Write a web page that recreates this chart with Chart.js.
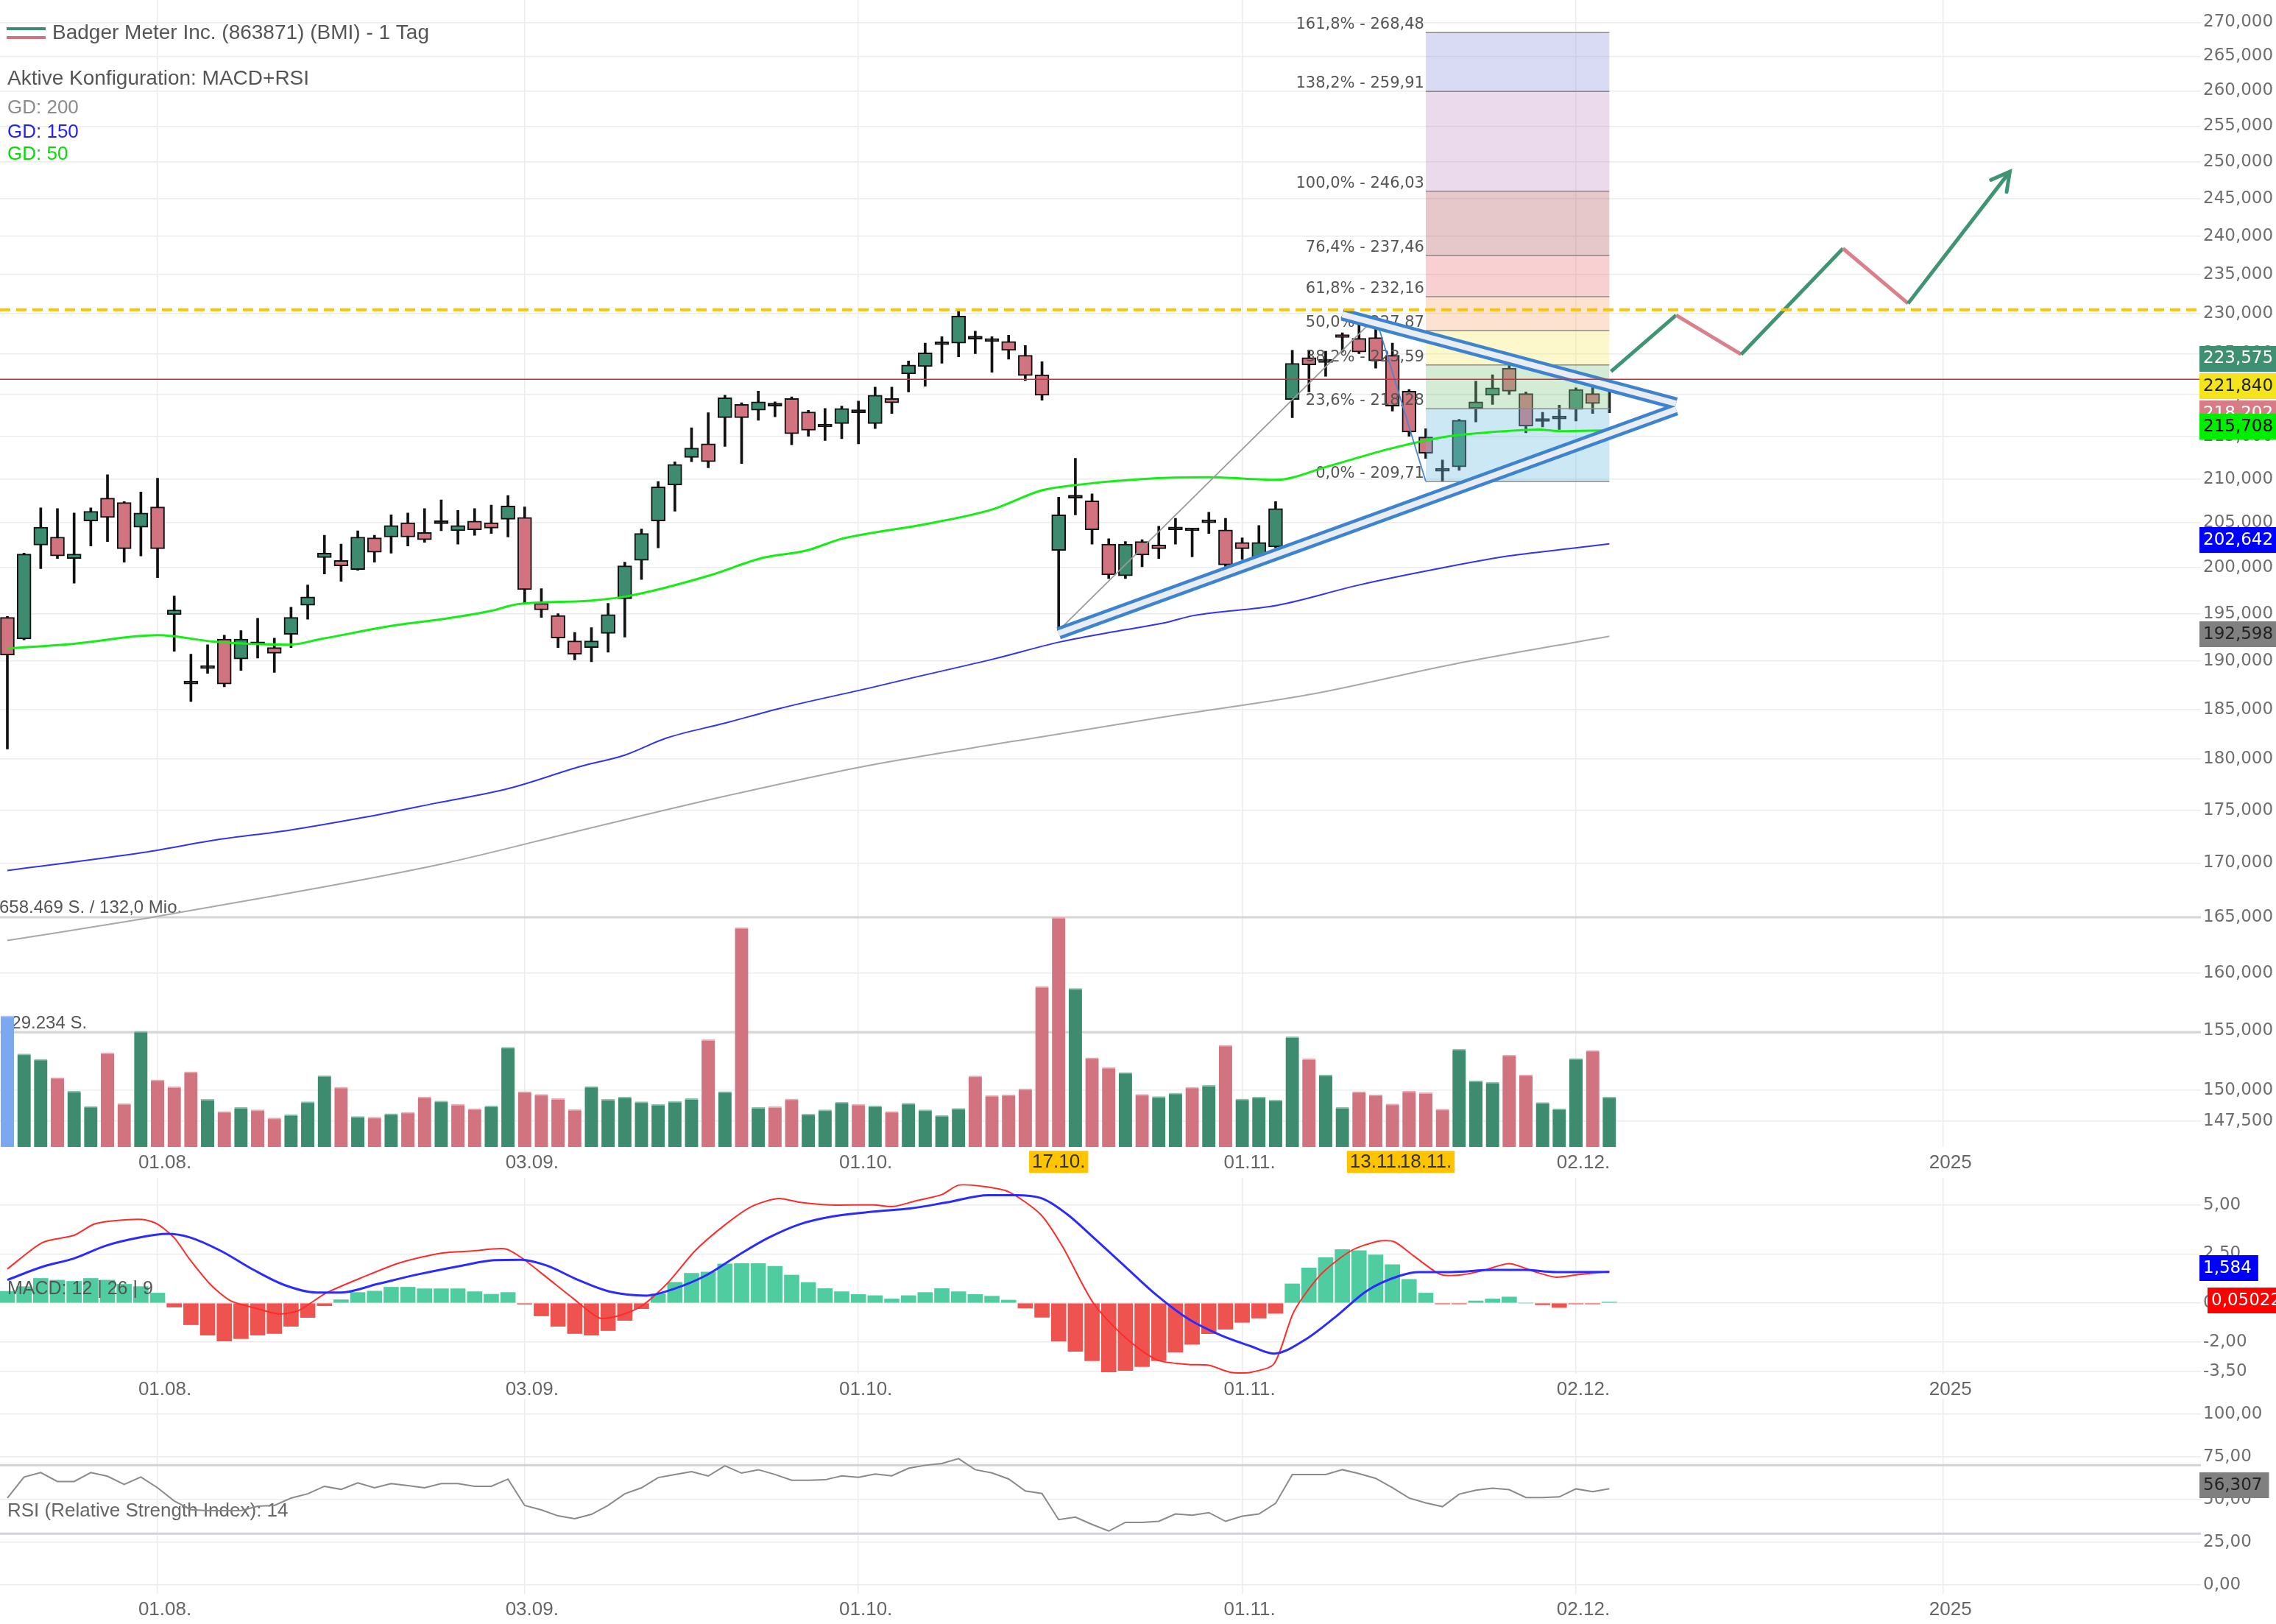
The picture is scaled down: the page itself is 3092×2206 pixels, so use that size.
<!DOCTYPE html>
<html lang="de">
<head>
<meta charset="utf-8">
<title>Badger Meter Inc. (BMI) - 1 Tag</title>
<script src="https://cdn.jsdelivr.net/npm/chart.js"></script>
<style>
  html, body { margin: 0; padding: 0; background: #fff; overflow: hidden; }
  #wrap { position: relative; width: 3092px; height: 2206px; }
  #wrap canvas { position: absolute; left: 0; }
</style>
</head>
<body>
<div id="wrap">
  <canvas id="priceChart" width="3092" height="1600" style="top:0;width:3092px;height:1600px"></canvas>
  <canvas id="macdChart" width="3092" height="300" style="top:1600px;width:3092px;height:300px"></canvas>
  <canvas id="rsiChart" width="3092" height="306" style="top:1900px;width:3092px;height:306px"></canvas>
</div>
<script>
const FONT = "'Liberation Sans', Arial, sans-serif";
const NUM_FONT = "'DejaVu Sans', Verdana, sans-serif";

// x = trading day index, 0 = 19.07.2024
const xTickIdx = [9, 31, 51, 74, 94, 116];
const xTickText = ["01.08.", "03.09.", "01.10.", "01.11.", "02.12.", "2025"];
const markIdx = [63, 82, 85];
const markText = ["17.10.", "13.11.", "18.11."];

const open = [194.6,192.3,202.5,203.4,201.0,205.2,207.8,207.3,204.5,206.8,
  194.9,187.7,189.3,192.3,190.2,191.8,191.4,192.8,195.9,201.1,
  200.8,199.8,203.3,203.4,205.0,203.9,204.9,204.1,205.2,205.0,
  205.4,205.6,196.1,194.8,192.1,191.4,192.9,196.6,200.8,205.2,
  209.3,212.5,214.1,217.2,218.8,218.1,218.7,219.5,217.9,216.2,
  216.5,217.8,216.5,219.5,222.5,223.4,226.1,226.3,226.9,226.6,
  226.5,224.8,222.4,201.9,207.9,207.5,202.6,199.1,202.9,202.5,
  204.2,204.1,205.0,204.2,202.8,200.6,202.3,219.4,224.5,223.9,
  227.3,226.9,227.0,224.8,220.4,214.9,211.0,211.4,218.3,219.9,
  223.2,220.1,216.75,217.05,218.2,220.1,220.65];
const high = [194.7,201.6,206.7,206.6,206.1,206.7,210.5,207.4,208.5,210.1,
  196.9,190.7,191.7,192.7,193.2,194.5,192.4,195.7,198.1,203.6,
  202.6,204.1,203.6,205.9,206.1,206.6,207.6,206.4,206.6,207.0,
  208.1,206.8,197.7,195.0,193.0,193.5,196.1,200.6,204.3,209.7,
  212.0,216.0,217.8,219.9,219.0,220.4,219.1,219.7,218.1,218.3,
  218.6,219.2,220.9,220.9,224.1,226.3,227.1,230.4,227.8,227.1,
  227.3,226.0,224.0,207.9,212.4,208.3,203.2,202.9,203.1,204.6,
  205.5,204.4,206.2,205.5,203.3,204.7,207.4,225.4,225.4,225.3,
  227.6,228.7,228.2,226.3,220.6,215.9,212.2,217.0,221.6,222.4,
  224.5,220.3,217.85,218.7,220.8,221.7,220.8];
const low = [181.0,192.2,199.9,201.0,198.3,202.4,202.9,200.6,201.3,198.9,
  191.0,185.8,188.7,187.3,189.0,190.3,188.8,191.4,194.4,199.3,
  198.5,199.7,200.6,201.6,202.4,202.8,204.1,202.6,203.6,203.8,
  203.4,196.1,194.6,191.4,190.1,189.9,190.9,192.5,198.7,202.2,
  206.3,212.0,211.3,213.8,211.8,216.9,217.3,214.0,215.0,214.5,
  214.7,214.1,215.9,217.7,220.3,221.0,223.8,224.6,225.0,222.7,
  224.3,221.7,219.3,193.2,205.9,202.6,198.8,198.8,200.1,201.0,
  202.6,201.2,203.8,199.7,200.9,200.4,202.2,217.2,220.3,222.2,
  225.2,225.0,223.2,218.0,215.0,212.4,209.7,211.0,216.7,218.8,
  220.0,215.4,216.1,215.8,216.8,217.7,217.8];
const close = [190.6,201.5,204.5,201.3,201.5,206.3,205.6,202.1,206.1,202.1,
  195.4,187.6,189.2,187.6,192.3,191.7,190.8,194.6,196.8,201.6,
  200.2,203.4,201.7,204.7,203.4,203.1,204.9,204.7,204.2,204.4,
  206.9,197.6,195.4,192.4,190.7,192.1,194.9,200.2,203.8,209.1,
  211.7,213.6,212.0,219.6,217.2,219.1,218.6,215.3,215.7,216.1,
  218.3,217.9,219.9,219.0,223.6,225.1,226.2,229.7,226.8,226.5,
  225.4,222.3,219.9,205.9,207.8,204.2,199.2,202.6,201.4,202.1,
  204.3,204.1,205.1,200.3,202.1,202.8,206.6,223.8,223.6,224.0,
  227.0,225.2,224.1,218.6,215.5,213.0,210.9,216.9,219.1,220.8,
  220.4,216.2,216.85,217.15,220.6,218.9,220.75];
const volume = [376000,267000,252000,199000,160000,117000,270000,125000,332000,193000,
  173000,216000,137000,102000,114000,107000,84000,93000,130000,205000,
  172000,88000,86000,96000,100000,144000,132000,123000,110000,118000,
  286000,159000,151000,139000,108000,174000,137000,144000,130000,123000,
  131000,139000,308000,159000,629000,114000,116000,138000,95000,107000,
  129000,123000,118000,102000,126000,107000,91000,111000,204000,148000,
  150000,167000,460000,658469,455000,256000,228000,214000,151000,145000,
  155000,172000,177000,292000,138000,144000,135000,316000,253000,207000,
  114000,159000,150000,124000,160000,156000,109000,281000,190000,186000,
  264000,207000,128000,110000,254000,277000,144000];
const volLines = [658469, 329234];
const volTurnover = "132,0 Mio.";

// moving averages, read at these candle positions
const gd50X = [0,4,9,12.5,16.9,18.8,23.4,26,29,30.5,34.9,37.2,42,45.3,47.9,50,54.9,59,62,64,68,72,76,79.2,82.8,86.4,89,91.8,93,96];
const gd50Y = [191.3,191.8,192.7,192.0,191.7,192.3,193.8,194.4,195.3,196.0,196.4,196.9,199.1,201.1,201.9,203.2,204.8,206.5,208.7,209.3,210.0,210.2,209.9,211.5,213.5,215.0,215.5,215.8,215.6,215.7];
const gd150X = [0,8.2,12.6,16.9,21.3,25.7,30,34.4,37,39.5,43,46.3,51.7,54.4,59.1,63.1,66.7,69.3,71.1,76.1,81,85.5,90,93.6,96];
const gd150Y = [169.3,171.0,172.2,173.1,174.3,175.7,177.1,179.3,180.4,182.1,183.6,185.1,187.2,188.3,190.2,192.0,193.2,194.0,194.8,195.9,198.1,199.8,201.3,202.1,202.64];
const gd200X = [0,8.3,16.9,26,34.4,43.1,51.7,60.4,69.2,78,86.5,96];
const gd200Y = [162.9,164.9,167.2,169.9,173.1,176.4,179.4,181.8,184.2,186.5,189.6,192.6];

// drawings
const fibPct = ["161,8%","138,2%","100,0%","76,4%","61,8%","50,0%","38,2%","23,6%","0,0%"];
const fibVal = [268.48, 259.91, 246.03, 237.46, 232.16, 227.87, 223.59, 218.28, 209.71];
const fibFrom = 85, fibTo = 96;
const lastPrice = 221.84;
const resistance = 230.5;
const upperBandX = [80, 100], upperBandY = [229.9, 218.9];
const lowerBandX = [63, 100], lowerBandY = [192.9, 218.2];
const anchorX = [63, 82, 85], anchorY = [193.2, 229.52, 209.71];
const projX = [96.1, 100, 103.9, 110, 113.9, 120];
const projY = [222.8, 229.8, 224.9, 238.4, 231.3, 248.7];

const priceTicks = [270,265,260,255,250,245,240,235,230,225,220,215,210,205,200,195,190,185,180,175,170,165,160,155,150,147.5];
const priceBadgeVal = [223.575, 221.84, 218.202, 215.708, 202.642, 192.598];

// MACD 12 | 26 | 9
const macdHist = [0.60,0.84,1.26,1.17,1.11,1.26,1.17,0.96,0.84,0.51,
  -0.21,-1.11,-1.64,-1.94,-1.82,-1.64,-1.56,-1.19,-0.74,-0.14,
  0.17,0.54,0.61,0.81,0.81,0.73,0.73,0.73,0.58,0.45,
  0.54,-0.06,-0.66,-1.19,-1.56,-1.64,-1.41,-0.89,-0.29,0.47,
  1.06,1.52,1.59,2.00,2.02,2.02,1.88,1.43,1.05,0.74,
  0.58,0.44,0.38,0.21,0.38,0.54,0.74,0.58,0.44,0.35,
  0.15,-0.26,-0.73,-1.95,-2.47,-2.95,-3.52,-3.45,-3.25,-2.95,
  -2.51,-2.11,-1.57,-1.34,-0.99,-0.77,-0.53,0.98,1.79,2.32,
  2.73,2.68,2.46,1.96,1.21,0.51,-0.05,-0.05,0.11,0.21,
  0.31,0.00,-0.09,-0.23,-0.05,-0.05,0.05];
const macdX = [0,2.1,4.0,5.2,6.5,8.1,9.0,10.0,10.9,12.2,13.4,15.0,16.3,17.5,19.1,21.3,23.5,26.0,27.9,29.8,
  30.8,32.3,33.9,35.5,36.7,38.0,39.6,41.2,43.0,44.6,46.2,47.5,49.3,51.9,53.1,54.4,56.0,57.0,58.5,60.0,
  61.9,63.2,65.1,67.0,68.9,70.8,72.0,73.3,74.5,75.9,77.1,78.7,80.5,82.1,83.1,84.3,85.9,87.2,88.4,90.0,
  91.6,92.8,94.1,96.0];
const macdY = [1.74,3.09,3.46,4.03,4.21,4.27,4.03,3.33,2.26,0.92,0.11,-0.29,-0.56,-0.36,0.51,1.32,2.05,2.55,2.66,2.77,
  2.32,1.32,0.24,-0.77,-0.63,-0.16,1.05,2.66,3.99,4.93,5.34,5.14,5.01,5.01,4.93,5.21,5.54,6.02,5.95,5.68,
  4.54,2.93,-0.03,-1.77,-2.91,-3.14,-3.18,-3.54,-3.54,-3.11,-0.43,1.45,2.66,3.15,3.13,2.39,1.45,1.45,1.65,2.01,
  1.58,1.32,1.45,1.61];
const sigX = [0,2.1,4.0,5.9,7.8,9.6,10.9,12.8,14.7,16.6,18.5,20.0,22.2,24.7,27.3,29.2,30.8,32.3,34.2,36.1,
  38.3,39.9,41.8,43.7,45.6,47.5,49.3,51.9,54.1,56.3,58.8,60.4,61.9,63.5,65.1,67.0,68.9,70.8,72.7,74.5,
  75.9,77.7,79.6,81.5,83.4,84.6,86.5,89.0,90.9,92.8,96.0];
const sigY = [1.18,1.85,2.28,2.93,3.33,3.53,3.36,2.66,1.72,0.92,0.54,0.54,0.98,1.48,1.92,2.19,2.21,1.92,1.18,0.58,
  0.38,0.71,1.38,2.39,3.33,4.03,4.40,4.67,4.83,5.14,5.51,5.51,5.37,4.54,3.33,1.85,0.38,-0.83,-1.64,-2.20,
  -2.58,-1.91,-0.70,0.64,1.38,1.58,1.58,1.69,1.69,1.58,1.584];
const macdTicks = [5, 2.5, 0, -2, -3.5];
const macdBadgeVal = [1.584, 0.05022];

// RSI 14
const rsi = [50.8,63.1,65.7,60.5,60.5,65.7,63.6,58.8,63.1,56.8,
  49.1,44.0,43.5,43.5,43.5,46.0,46.5,50.8,53.3,57.7,
  55.9,59.7,56.8,59.3,58.1,56.8,59.3,59.3,57.7,57.7,
  61.9,46.5,43.9,40.4,38.7,41.3,46.5,53.3,56.8,62.8,
  64.6,66.3,63.7,69.7,65.4,67.4,64.6,61.2,61.2,61.5,
  63.8,63.0,64.9,63.8,68.2,70.0,71.0,73.9,67.4,65.5,
  62.0,55.0,53.5,38.2,39.7,35.4,31.5,36.6,36.6,37.2,
  41.5,40.8,42.3,37.2,40.2,41.5,47.7,64.6,64.6,64.6,
  67.4,65.1,62.3,56.9,50.8,48.0,45.8,53.1,55.4,56.6,
  55.7,51.1,51.1,51.5,56.2,54.6,56.3];
const rsiBands = [70, 30];
const rsiTicks = [100, 75, 50, 25, 0];
const rsiBadgeVal = 56.307;

// ---- layout / style ----
const X_MIN = -0.441, X_MAX = 131.45;
const PRICE_MIN = 145.39, PRICE_MAX = 273.33;
const VOL_AXIS_MAX = 3285600;
const GREEN = "#3e8c70", RED = "#d2747f", DOJI = "#111";
const GRID = "#ececec";

function fmt(v, d) { return v.toFixed(d).replace(".", ","); }
function fmtVol(v) { return String(v).replace(/\B(?=(\d{3})+(?!\d))/g, "."); }
function pts(xs, ys) { return xs.map((x, i) => ({ x: x, y: ys[i] })); }
function lineSet(xs, ys, color, width, extra) {
  return Object.assign({ type: "line", data: pts(xs, ys), borderColor: color, borderWidth: width,
    pointRadius: 0, fill: false, yAxisID: "y" }, extra || {});
}

function xAxis(axisHeight) {
  return {
    type: "linear", min: X_MIN, max: X_MAX, offset: false,
    afterBuildTicks: s => { s.ticks = xTickIdx.map(v => ({ value: v })); },
    afterFit: s => { s.height = axisHeight; s.paddingLeft = 0; s.paddingRight = 0; },
    border: { display: false },
    grid: { color: GRID, lineWidth: 1.5, drawTicks: false, offset: false },
    ticks: {
      autoSkip: false, maxRotation: 0, minRotation: 0, padding: 6, labelOffset: 10,
      color: "#666", font: { family: FONT, size: 26 },
      callback: v => { const k = xTickIdx.indexOf(v); return k < 0 ? "" : xTickText[k]; }
    }
  };
}
function rightAxis(extra, tickVals, decimals) {
  return Object.assign({
    position: "right",
    afterBuildTicks: s => { s.ticks = tickVals.map(v => ({ value: v })); },
    afterFit: s => { s.width = 102; s.paddingTop = 0; s.paddingBottom = 0; },
    border: { display: false },
    grid: { color: GRID, lineWidth: 1.5, drawTicks: false },
    ticks: { padding: 3, color: "#6e6e6e", font: { family: NUM_FONT, size: 23 }, callback: v => fmt(v, decimals) }
  }, extra);
}

function badge(ctx, x0, yc, text, bg, fg) {
  ctx.font = "23px " + NUM_FONT;
  const w = Math.min(ctx.measureText(text).width + 14, 3092 - x0);
  ctx.fillStyle = bg;
  ctx.fillRect(x0, Math.round(yc - 17), w, 35);
  ctx.fillStyle = fg;
  ctx.textAlign = "left";
  ctx.textBaseline = "middle";
  ctx.fillText(text, x0 + 5, yc + 1);
}

const baseOptions = {
  responsive: false, animation: false, devicePixelRatio: 1, events: [],
  layout: { padding: 0 },
  plugins: { legend: { display: false }, tooltip: { enabled: false } }
};

// ---------------- price + volume ----------------
const bodyColor = open.map((o, i) => Math.abs(close[i] - o) < 0.15 ? DOJI : (close[i] >= o ? GREEN : RED));
const volColor = volume.map((v, i) => i === 0 ? "#7ba8ef" : (close[i] >= close[i - 1] ? GREEN : RED));
const volTop = volume.map((v, i) => i === 0 ? "#a9c6f5" : (close[i] >= close[i - 1] ? "#8cc0ad" : "#e8aab1"));

const fibFill = ["rgba(146,149,221,0.35)", "rgba(198,146,201,0.35)", "rgba(183,98,107,0.35)", "rgba(235,121,127,0.35)",
  "rgba(249,175,118,0.35)", "rgba(249,235,109,0.35)", "rgba(132,201,138,0.35)", "rgba(112,189,227,0.35)"];
const priceBadgeBg = ["#3f8f72", "#f3e41c", "#d77c86", "#00ee00", "#0000ff", "#808080"];
const priceBadgeFg = ["#fff", "#222", "#fff", "#000", "#fff", "#222"];
const priceBadgeNudge = [-9.5, 8.5, 4.5, -5, -5.6, -3.5];

const PROJ_UP = "#3f9474", PROJ_DOWN = "#d9808a";

const priceSets = [
  lineSet([X_MIN, X_MAX], [lastPrice, lastPrice], "#d42a2a", 1.6, { order: 1 }),
  lineSet([X_MIN, X_MAX], [resistance, resistance], "#ffc400", 4, { order: 1, borderDash: [14, 8] }),
  lineSet(projX, projY, PROJ_UP, 5, { order: 2, label: "proj",
    segment: { borderColor: c => c.p1.parsed.y >= c.p0.parsed.y ? PROJ_UP : PROJ_DOWN } }),
  lineSet(upperBandX, upperBandY, "#e9edf2", 8, { order: 3 }),
  lineSet(lowerBandX, lowerBandY, "#e9edf2", 8, { order: 3 }),
  lineSet(upperBandX, upperBandY, "#3d84d0", 17, { order: 4 }),
  lineSet(lowerBandX, lowerBandY, "#3d84d0", 17, { order: 4 }),
  lineSet(anchorX, anchorY, "#9a9a9a", 1.8, { order: 5,
    segment: { borderColor: c => c.p0DataIndex === 0 ? "#9a9a9a" : "#4a86d0" } }),
  lineSet(gd50X, gd50Y, "#14ee14", 3, { order: 6, cubicInterpolationMode: "monotone" }),
  lineSet(gd150X, gd150Y, "#3434ee", 2, { order: 7, cubicInterpolationMode: "monotone" }),
  lineSet(gd200X, gd200Y, "#a8a8a8", 2, { order: 8, cubicInterpolationMode: "monotone" }),
  { type: "bar", label: "body", data: open.map((o, i) => ({ x: i, y: [o, close[i]] })), yAxisID: "y",
    backgroundColor: bodyColor, borderColor: DOJI, borderWidth: 2, borderSkipped: false,
    barThickness: 19, minBarLength: 4, grouped: false, order: 19 },
  { type: "bar", label: "wick", data: open.map((o, i) => ({ x: i, y: [low[i], high[i]] })), yAxisID: "y",
    backgroundColor: DOJI, barThickness: 3, grouped: false, order: 20 },
  { type: "bar", label: "volume", data: volume.map((v, i) => ({ x: i, y: v })), yAxisID: "yVol",
    backgroundColor: volColor, borderColor: volTop, borderWidth: { top: 2, left: 0, right: 0, bottom: 0 },
    borderSkipped: false, barThickness: 18, grouped: false, order: 30 }
];

const priceDecor = {
  id: "priceDecor",
  beforeDatasetsDraw(chart) {
    const ctx = chart.ctx, a = chart.chartArea, yv = chart.scales.yVol;
    ctx.save();
    ctx.strokeStyle = "#d6d6d6";
    ctx.lineWidth = 3;
    volLines.forEach(v => {
      const y = yv.getPixelForValue(v);
      ctx.beginPath(); ctx.moveTo(a.left, y); ctx.lineTo(a.right, y); ctx.stroke();
    });
    ctx.fillStyle = "#555";
    ctx.font = "24px " + FONT;
    ctx.textAlign = "left";
    ctx.textBaseline = "middle";
    ctx.fillText(fmtVol(volLines[0]) + " S. / " + volTurnover, -1, yv.getPixelForValue(volLines[0]) - 13);
    ctx.fillText(fmtVol(volLines[1]) + " S.", 2, yv.getPixelForValue(volLines[1]) - 12);
    ctx.restore();
  },
  afterDatasetDraw(chart, args) {
    if (chart.data.datasets[args.index].label !== "body") return;
    // fibonacci box goes over the candles
    const ctx = chart.ctx, x = chart.scales.x, y = chart.scales.y;
    const x0 = x.getPixelForValue(fibFrom), x1 = x.getPixelForValue(fibTo);
    ctx.save();
    for (let k = 0; k < fibVal.length - 1; k++) {
      const ya = y.getPixelForValue(fibVal[k]), yb = y.getPixelForValue(fibVal[k + 1]);
      ctx.fillStyle = fibFill[k];
      ctx.fillRect(x0, ya, x1 - x0, yb - ya);
    }
    ctx.strokeStyle = "#8a8a8a";
    ctx.lineWidth = 1.5;
    ctx.font = "21px " + NUM_FONT;
    ctx.fillStyle = "#555";
    ctx.textAlign = "right";
    ctx.textBaseline = "bottom";
    fibVal.forEach((v, k) => {
      const yy = y.getPixelForValue(v);
      ctx.beginPath(); ctx.moveTo(x0, yy); ctx.lineTo(x1, yy); ctx.stroke();
      ctx.fillText(fibPct[k] + " - " + fmt(v, 2), x0 - 2, yy);
    });
    ctx.restore();
  },
  afterDatasetsDraw(chart) {
    // arrow head at the end of the projection
    const idx = chart.data.datasets.findIndex(d => d.label === "proj");
    const p = chart.getDatasetMeta(idx).data;
    const a = p[p.length - 2], b = p[p.length - 1];
    const ang = Math.atan2(b.y - a.y, b.x - a.x), len = 28;
    const ctx = chart.ctx;
    ctx.save();
    ctx.strokeStyle = PROJ_UP;
    ctx.lineWidth = 5;
    ctx.lineCap = "round";
    ctx.beginPath();
    ctx.moveTo(b.x - len * Math.cos(ang - 0.5), b.y - len * Math.sin(ang - 0.5));
    ctx.lineTo(b.x, b.y);
    ctx.lineTo(b.x - len * Math.cos(ang + 0.5), b.y - len * Math.sin(ang + 0.5));
    ctx.stroke();
    ctx.restore();
  },
  afterDraw(chart) {
    const ctx = chart.ctx, x = chart.scales.x, y = chart.scales.y, a = chart.chartArea;
    ctx.save();
    // header
    ctx.lineWidth = 4;
    ctx.strokeStyle = GREEN; ctx.beginPath(); ctx.moveTo(9, 39); ctx.lineTo(62, 39); ctx.stroke();
    ctx.strokeStyle = RED; ctx.beginPath(); ctx.moveTo(9, 51); ctx.lineTo(62, 51); ctx.stroke();
    ctx.textAlign = "left";
    ctx.textBaseline = "middle";
    ctx.fillStyle = "#555";
    ctx.font = "28px " + FONT;
    ctx.fillText("Badger Meter Inc. (863871) (BMI) - 1 Tag", 71, 45);
    ctx.fillText("Aktive Konfiguration: MACD+RSI", 10, 107);
    ctx.font = "26px " + FONT;
    ctx.fillStyle = "#8c8c8c"; ctx.fillText("GD: 200", 10, 147);
    ctx.fillStyle = "#2323f5"; ctx.fillText("GD: 150", 10, 180);
    ctx.fillStyle = "#00e000"; ctx.fillText("GD: 50", 10, 210);
    // marked dates on the axis: boxes first, then the texts
    ctx.font = "26px " + FONT;
    ctx.textAlign = "center";
    markIdx.forEach((m, k) => {
      const px = x.getPixelForValue(m);
      const w = ctx.measureText(markText[k]).width + 8;
      ctx.fillStyle = "#ffc400";
      ctx.fillRect(px - w / 2, a.bottom + 5, w, 30);
    });
    ctx.fillStyle = "#333";
    markIdx.forEach((m, k) => {
      ctx.fillText(markText[k], x.getPixelForValue(m), a.bottom + 21);
    });
    // value badges
    priceBadgeVal.forEach((v, k) => {
      badge(ctx, 2988, y.getPixelForValue(v) + priceBadgeNudge[k], fmt(v, 3), priceBadgeBg[k], priceBadgeFg[k]);
    });
    ctx.restore();
  }
};

new Chart(document.getElementById("priceChart"), {
  type: "line",
  data: { datasets: priceSets },
  options: Object.assign({}, baseOptions, {
    scales: {
      x: xAxis(41.7),
      y: rightAxis({ type: "logarithmic", min: PRICE_MIN, max: PRICE_MAX }, priceTicks, 3),
      yVol: { type: "linear", display: false, min: 0, max: VOL_AXIS_MAX }
    }
  }),
  plugins: [priceDecor]
});

// ---------------- MACD ----------------
const macdDecor = {
  id: "macdDecor",
  afterDatasetsDraw(chart) {
    const ctx = chart.ctx;
    ctx.save();
    ctx.fillStyle = "#555";
    ctx.font = "25px " + FONT;
    ctx.textAlign = "left";
    ctx.textBaseline = "middle";
    ctx.fillText("MACD: 12 | 26 | 9", 10, 151);
    ctx.restore();
  },
  afterDraw(chart) {
    const ctx = chart.ctx, y = chart.scales.y;
    ctx.save();
    badge(ctx, 2988, y.getPixelForValue(macdBadgeVal[0]) - 6, fmt(macdBadgeVal[0], 3), "#0000ff", "#fff");
    badge(ctx, 2999, y.getPixelForValue(macdBadgeVal[1]) - 3, fmt(macdBadgeVal[1], 5), "#ff0000", "#fff");
    ctx.restore();
  }
};

new Chart(document.getElementById("macdChart"), {
  type: "line",
  data: { datasets: [
    lineSet(sigX, sigY, "#2b2bff", 3, { order: 1, cubicInterpolationMode: "monotone" }),
    lineSet(macdX, macdY, "#ff2b2b", 2, { order: 2, tension: 0.25 }),
    { type: "bar", data: macdHist.map((v, i) => ({ x: i, y: v })), yAxisID: "y",
      backgroundColor: macdHist.map(v => v >= 0 ? "#50cda0" : "#ef5350"),
      barThickness: 20, grouped: false, order: 10 }
  ]},
  options: Object.assign({}, baseOptions, {
    scales: {
      x: xAxis(34),
      y: rightAxis({ type: "linear", min: -3.609, max: 6.391 }, macdTicks, 2)
    }
  }),
  plugins: [macdDecor]
});

// ---------------- RSI ----------------
const rsiDecor = {
  id: "rsiDecor",
  beforeDatasetsDraw(chart) {
    const ctx = chart.ctx;
    ctx.save();
    ctx.fillStyle = "#666";
    ctx.font = "26px " + FONT;
    ctx.textAlign = "left";
    ctx.textBaseline = "middle";
    ctx.fillText("RSI (Relative Strength Index): 14", 10, 153);
    ctx.restore();
  },
  afterDraw(chart) {
    const ctx = chart.ctx, y = chart.scales.y;
    ctx.save();
    badge(ctx, 2988, y.getPixelForValue(rsiBadgeVal) - 5, fmt(rsiBadgeVal, 3), "#808080", "#222");
    ctx.restore();
  }
};

new Chart(document.getElementById("rsiChart"), {
  type: "line",
  data: { datasets: [
    lineSet(rsi.map((v, i) => i), rsi, "#8a8a8a", 2, { order: 1 }),
    lineSet([X_MIN, X_MAX], [rsiBands[0], rsiBands[0]], "#d2d2d8", 3, { order: 2 }),
    lineSet([X_MIN, X_MAX], [rsiBands[1], rsiBands[1]], "#d2d2d8", 3, { order: 2 })
  ]},
  options: Object.assign({}, baseOptions, {
    scales: {
      x: xAxis(41),
      y: rightAxis({ type: "linear", min: -5.21, max: 108.92 }, rsiTicks, 2)
    }
  }),
  plugins: [rsiDecor]
});
</script>
</body>
</html>
